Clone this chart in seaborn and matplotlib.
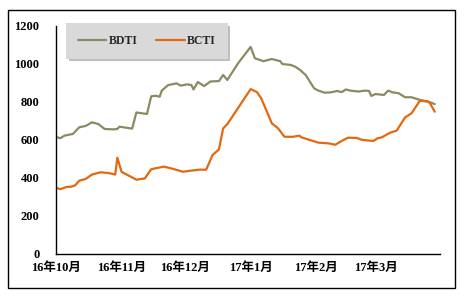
import matplotlib
matplotlib.use("Agg")
import matplotlib.pyplot as plt
import matplotlib.dates as mdates
from matplotlib.patches import Rectangle
import pandas as pd
import seaborn as sns

bdti_dates = ["2016-10-01", "2016-10-03", "2016-10-05", "2016-10-09", "2016-10-12", "2016-10-15",
              "2016-10-18", "2016-10-21", "2016-10-24", "2016-10-28", "2016-10-30", "2016-10-31",
              "2016-11-03", "2016-11-06", "2016-11-08", "2016-11-11", "2016-11-13", "2016-11-15",
              "2016-11-17", "2016-11-19", "2016-11-20", "2016-11-23", "2016-11-27", "2016-11-29",
              "2016-12-02", "2016-12-04", "2016-12-05", "2016-12-07", "2016-12-10", "2016-12-13",
              "2016-12-17", "2016-12-19", "2016-12-21", "2016-12-26", "2017-01-01", "2017-01-03",
              "2017-01-07", "2017-01-11", "2017-01-15", "2017-01-16", "2017-01-20", "2017-01-22",
              "2017-01-24", "2017-01-27", "2017-01-28", "2017-01-31", "2017-02-02", "2017-02-05",
              "2017-02-08", "2017-02-11", "2017-02-13", "2017-02-15", "2017-02-17", "2017-02-21",
              "2017-02-24", "2017-02-26", "2017-02-27", "2017-03-01", "2017-03-05", "2017-03-07",
              "2017-03-09", "2017-03-12", "2017-03-15", "2017-03-18", "2017-03-22", "2017-03-26",
              "2017-03-29"]
bdti_values = [617, 609, 623, 632, 667, 674,
               693, 684, 658, 656, 658, 670,
               665, 660, 745, 740, 737, 830,
               833, 828, 860, 889, 898, 886,
               893, 889, 866, 905, 884, 908,
               910, 942, 916, 1003, 1090, 1030,
               1015, 1026, 1015, 1000, 995, 986,
               972, 942, 925, 872, 860, 849,
               851, 858, 852, 866, 860, 855,
               860, 858, 832, 842, 837, 860,
               851, 846, 825, 825, 811, 802,
               789]

bcti_dates = ["2016-10-01", "2016-10-03", "2016-10-06", "2016-10-08", "2016-10-10", "2016-10-12",
              "2016-10-15", "2016-10-18", "2016-10-22", "2016-10-26", "2016-10-29", "2016-10-30",
              "2016-11-01", "2016-11-05", "2016-11-08", "2016-11-12", "2016-11-15", "2016-11-17",
              "2016-11-21", "2016-11-25", "2016-11-30", "2016-12-04", "2016-12-08", "2016-12-11",
              "2016-12-14", "2016-12-17", "2016-12-19", "2016-12-21", "2017-01-01", "2017-01-04",
              "2017-01-06", "2017-01-08", "2017-01-11", "2017-01-14", "2017-01-17", "2017-01-21",
              "2017-01-24", "2017-01-25", "2017-01-29", "2017-02-02", "2017-02-07", "2017-02-10",
              "2017-02-13", "2017-02-16", "2017-02-20", "2017-02-23", "2017-02-28", "2017-03-02",
              "2017-03-04", "2017-03-08", "2017-03-11", "2017-03-15", "2017-03-18", "2017-03-22",
              "2017-03-26", "2017-03-27", "2017-03-29"]
bcti_values = [349, 341, 353, 354, 361, 386,
               395, 418, 430, 426, 418, 507,
               432, 409, 391, 398, 446, 451,
               460, 449, 433, 439, 444, 444,
               521, 550, 661, 684, 868, 852,
               819, 767, 688, 661, 617, 617,
               623, 614, 600, 586, 582, 575,
               595, 612, 611, 600, 595, 609,
               614, 639, 649, 719, 740, 807,
               802, 789, 749]

tick_dates = ["2016-10-01", "2016-11-01", "2016-12-01", "2017-01-01", "2017-02-01", "2017-03-01"]
tick_labels = ["16年10月", "16年11月", "16年12月", "17年1月", "17年2月", "17年3月"]
y_ticks = [0, 200, 400, 600, 800, 1000, 1200]

df_bdti = pd.DataFrame({"date": pd.to_datetime(bdti_dates), "value": bdti_values})
df_bcti = pd.DataFrame({"date": pd.to_datetime(bcti_dates), "value": bcti_values})

sns.set_style("white")
fam = ["Liberation Serif", "Noto Sans CJK SC", "DejaVu Sans"]
plt.rcParams["font.family"] = fam

fig = plt.figure(figsize=(4.66, 2.98), dpi=100)
fig.patch.set_facecolor("white")
fig.add_artist(Rectangle((8 / 466, 1 - 288 / 298), 447 / 466, 278 / 298,
                         transform=fig.transFigure, fill=False, edgecolor="black", lw=1.0))
ax = fig.add_axes([56 / 466, 1 - 254 / 298, 384 / 466, 228 / 298])

sns.lineplot(data=df_bdti, x="date", y="value", ax=ax, color="#8c8a62", lw=1.6, label="BDTI")
sns.lineplot(data=df_bcti, x="date", y="value", ax=ax, color="#e2690f", lw=1.6, label="BCTI")

ax.set_xlim(pd.Timestamp("2016-10-01"), pd.Timestamp("2017-03-31 12:00"))
ax.set_ylim(0, 1200)
ax.set_yticks(y_ticks)
ax.set_yticklabels([str(v) for v in y_ticks], fontsize=9, fontweight="bold")
ax.set_xticks(pd.to_datetime(tick_dates))
ax.set_xticklabels(tick_labels, fontsize=9, fontweight="bold")
ax.set_xlabel("")
ax.set_ylabel("")
for s in ["top", "right"]:
    ax.spines[s].set_visible(False)
for s in ["left", "bottom"]:
    ax.spines[s].set_color("black")
    ax.spines[s].set_linewidth(1.0)
ax.tick_params(axis="y", direction="in", length=3, width=0.8, pad=12, colors="black")
ax.tick_params(axis="x", direction="in", length=3, width=0.8, pad=6, colors="black")
ax.grid(False)

leg = ax.legend(loc="upper left", bbox_to_anchor=(10 / 384, 1 + 3 / 228), ncol=2,
                frameon=True, shadow={"color": "#b0b0b0", "alpha": 0.8}, fancybox=False,
                facecolor="#d9d9d9", edgecolor="#d9d9d9", framealpha=1,
                prop={"family": fam, "weight": "bold", "size": 8.5},
                handlelength=2.4, columnspacing=1.6, borderpad=1.0, handletextpad=0.2,
                borderaxespad=0)
leg.get_frame().set_linewidth(0)

fig.savefig("out.png", dpi=100)
